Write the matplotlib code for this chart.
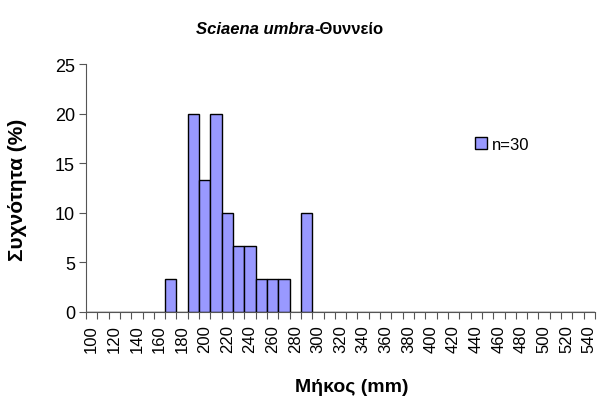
import matplotlib
matplotlib.use("Agg")
import matplotlib.pyplot as plt
import numpy as np

plt.rcParams['font.family'] = ['Liberation Sans', 'DejaVu Sans']

categories = list(range(100, 550, 10))
values_map = {170: 3.33, 190: 20.0, 200: 13.33, 210: 20.0, 220: 10.0,
              230: 6.67, 240: 6.67, 250: 3.33, 260: 3.33, 270: 3.33, 290: 10.0}
frequencies = [values_map.get(c, 0.0) for c in categories]
tick_labels = [str(c) if (c - 100) % 20 == 0 else "" for c in categories]
legend_label = "n=30"

fig = plt.figure(figsize=(6.06, 4.06), dpi=100)
ax = fig.add_axes([86/606, 1-313/406, (595-86)/606, (313-65)/406])

x = np.arange(len(categories))
ax.bar(x, frequencies, width=1.0, color="#9999FF", edgecolor="black",
       linewidth=1.0, label=legend_label)

ax.set_xlim(-0.5, len(categories) - 0.5)
ax.set_ylim(0, 25)
ax.set_yticks([0, 5, 10, 15, 20, 25])
ax.set_xticks(x)
ax.set_xticklabels(tick_labels, rotation=90, fontsize=12)
ax.set_xticks(np.arange(-0.5, len(categories), 1), minor=True)
ax.tick_params(axis='x', which='major', length=0, pad=9)
ax.tick_params(axis='x', which='minor', length=5, direction='out', width=0.8)
ax.tick_params(axis='y', labelsize=13, length=5, direction='out', width=0.8, pad=3)
for s in ['top', 'right']:
    ax.spines[s].set_visible(False)
ax.spines['left'].set_color('#555555')
ax.spines['bottom'].set_color('#555555')
ax.tick_params(which='both', color='#555555')

fig.text(18/606, 1-190/406, "Συχνότητα (%)", fontsize=15, fontweight='bold',
         rotation=90, ha='center', va='center')
fig.text(352/606, 1-388/406, "Μήκος (mm)", fontsize=14, fontweight='bold',
         ha='center', va='center')

# Title: italic part + regular part, centred together
t1 = fig.text(0, 1-30/406, "Sciaena umbra", fontsize=12, fontweight='bold',
              fontstyle='italic', ha='left', va='center')
t2 = fig.text(0, 1-30/406, "-Θυννείο", fontsize=12, fontweight='bold',
              ha='left', va='center')
fig.canvas.draw()
r = fig.canvas.get_renderer()
w1 = t1.get_window_extent(r).width
w2 = t2.get_window_extent(r).width
cx = 290
start = cx - (w1 + w2) / 2
t1.set_x(start / 606)
t2.set_x((start + w1) / 606)

ax.legend(loc='center left', bbox_to_anchor=((468-86)/509, 1-(145-65)/248),
          frameon=False, fontsize=12, handlelength=0.75, handleheight=0.75,
          handletextpad=0.3, borderaxespad=0)

fig.savefig("out.png", dpi=100)
